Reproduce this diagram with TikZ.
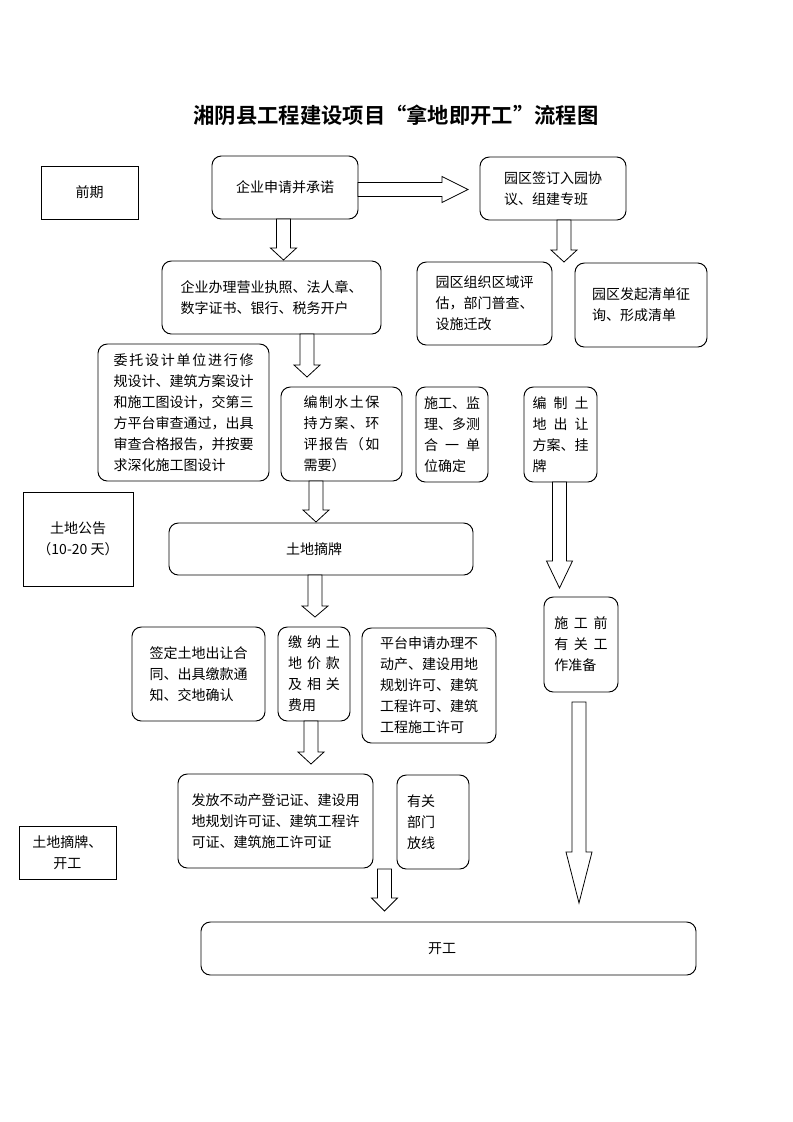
\documentclass[tikz,border=0pt]{standalone}
\usepackage{fontspec}
\setmainfont{Noto Sans CJK SC}[BoldFont={Noto Sans CJK SC Bold}]
\usetikzlibrary{calc}
\tikzset{
  base/.style={draw=black, line width=0.7pt, inner sep=0pt, outer sep=0pt,
    font=\fontsize{10.5}{15.75}\selectfont, align=left},
  rbox/.style={base, rounded corners=7pt},
  sbox/.style={base, align=center},
  barrow/.style={draw=black, line width=0.6pt, fill=white, line join=miter},
}
% box: [style]{name}{x1}{y1}{x2}{y2}{text}  (pixel coordinates)
\newcommand\bx[7][rbox]{\node[#1, minimum width={(#5-#3)*0.75pt}, minimum height={(#6-#4)*0.75pt}] (#2) at ({(#3+#5)/2},{(#4+#6)/2}) {#7};}
\newcommand\js[2]{\makebox[#1][s]{#2}}
% vertical block arrow: {from}{to}{x offset}{start gap}{end gap}{head length}
\newcommand\varrow[6]{%
  \coordinate (#1-#2-s) at ($(#1.south)+(#3,#4)$);
  \coordinate (#1-#2-u) at (#1-#2-s |- #2.north);
  \coordinate (#1-#2-t) at ($(#1-#2-u)+(0,-#5)$);
  \draw[barrow] ($(#1-#2-s)+(-7,0)$) -- ($(#1-#2-s)+(7,0)$) -- ($(#1-#2-t)+(7,-#6)$)
    -- ($(#1-#2-t)+(13,-#6)$) -- (#1-#2-t) -- ($(#1-#2-t)+(-13,-#6)$)
    -- ($(#1-#2-t)+(-7,-#6)$) -- cycle;}
% horizontal block arrow: {from}{to}{y offset}{start gap}{end gap}{head length}
\newcommand\harrow[6]{%
  \coordinate (#1-#2-s) at ($(#1.east)+(#4,#3)$);
  \coordinate (#1-#2-u) at (#1-#2-s -| #2.west);
  \coordinate (#1-#2-t) at ($(#1-#2-u)+(-#5,0)$);
  \draw[barrow] ($(#1-#2-s)+(0,-7)$) -- ($(#1-#2-t)+(-#6,-7)$) -- ($(#1-#2-t)+(-#6,-13)$)
    -- (#1-#2-t) -- ($(#1-#2-t)+(-#6,13)$) -- ($(#1-#2-t)+(-#6,7)$)
    -- ($(#1-#2-s)+(0,7)$) -- cycle;}
\begin{document}
\begin{tikzpicture}[x=0.75pt,y=-0.75pt]
\useasboundingbox[fill=white] (0,0) rectangle (793,1122);

\node[font=\fontsize{16}{19}\selectfont\bfseries] (title) at (396,115) {湘阴县工程建设项目“拿地即开工”流程图};

\bx[sbox]{qq}{41}{166}{138}{219}{前期}
\bx{qy}{212}{156}{358}{219}{企业申请并承诺}
\bx{ht}{480}{157}{626}{220}{园区签订入园协\\议、组建专班}
\bx{bl}{162}{261}{381}{334}{企业办理营业执照、法人章、\\数字证书、银行、税务开户}
\bx{zz}{417}{262}{552}{345}{园区组织区域评\\估，部门普查、\\设施迁改}
\bx{fq}{575}{263}{707}{347}{园区发起清单征\\询、形成清单}
\bx{wt}{98}{344}{269}{481}{\js{105pt}{委\hfil 托\hfil 设\hfil 计\hfil 单\hfil 位\hfil 进\hfil 行\hfil 修}\\规设计、建筑方案设计\\和施工图设计，交第三\\方平台审查通过，出具\\审查合格报告，并按要\\求深化施工图设计}
\bx{sb}{281}{387}{402}{481}{\js{57pt}{编\hfil 制\hfil 水\hfil 土\hfil 保}\\\js{57pt}{持\hfil 方\hfil 案\hfil 、\hfil 环}\\\js{57pt}{评\hfil 报\hfil 告\hfil （\hfil 如}\\需要）}
\bx{sj}{416}{387}{488}{482}{施工、监\\理、多测\\\js{42pt}{合\hfil 一\hfil 单}\\位确定}
\bx{cr}{524}{387}{597}{482}{\js{42pt}{编\hfil 制\hfil 土}\\\js{42pt}{地\hfil 出\hfil 让}\\方案、挂\\牌}
\bx[sbox]{gg}{23}{492}{133}{586}{土地公告\\（10-20 天）}
\bx{zp}{169}{523}{473}{575}{土地摘牌\hspace{10.5pt}}
\bx{sq}{544}{597}{618}{692}{\js{40pt}{施\hfil 工\hfil 前}\\\js{40pt}{有\hfil 关\hfil 工}\\作准备}
\bx{qd}{132}{627}{265}{721}{签定土地出让合\\同、出具缴款通\\知、交地确认}
\bx{jn}{278}{627}{350}{721}{\js{39pt}{缴\hfil 纳\hfil 土}\\\js{39pt}{地\hfil 价\hfil 款}\\\js{39pt}{及\hfil 相\hfil 关}\\费用}
\bx{pt}{362}{628}{496}{743}{平台申请办理不\\动产、建设用地\\规划许可、建筑\\工程许可、建筑\\工程施工许可}
\bx{ff}{178}{774}{373}{868}{发放不动产登记证、建设用\\地规划许可证、建筑工程许\\可证、建筑施工许可证}
\bx[rbox,text width=39pt]{yg}{397}{775}{469}{869}{有关\\部门\\放线}
\bx[sbox]{dk}{19}{826}{116}{879}{土地摘牌、\\开工}
\bx{kg}{201}{922}{696}{975}{开工\hspace{9.75pt}}

\harrow{qy}{ht}{2}{0}{12}{26}
\varrow{qy}{bl}{-1.5}{0}{1}{12}
\varrow{ht}{zz}{11}{0}{0}{12}
\varrow{bl}{sb}{35.5}{0}{10}{12}
\varrow{sb}{zp}{-25.5}{0}{1}{12}
\varrow{zp}{jn}{-6}{0}{10}{11}
\varrow{jn}{ff}{-3}{0}{10}{12}
\varrow{ff}{kg}{109}{1}{11}{13}
\varrow{cr}{sq}{-1}{0}{9}{27}
\varrow{sq}{kg}{-2}{10}{19}{51}
\end{tikzpicture}
\end{document}
